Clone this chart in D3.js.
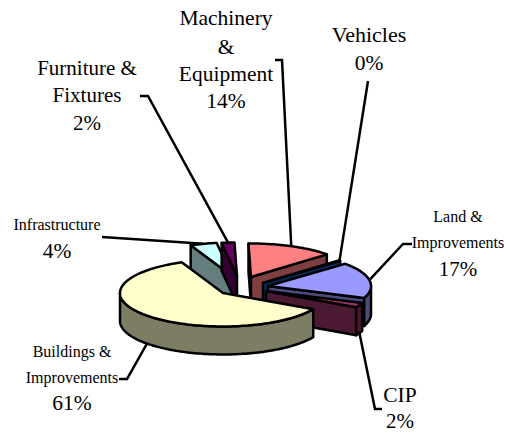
<!DOCTYPE html>
<html>
<head>
<meta charset="utf-8">
<script src="https://cdn.jsdelivr.net/npm/d3@7/dist/d3.min.js"></script>
<style>
  html, body { margin: 0; padding: 0; background: #fff; }
  text { font-family: "Liberation Serif", "Times New Roman", serif; fill: #000; }
</style>
</head>
<body>
<div id="chart"></div>
<script>
const categories = ["Land & Improvements", "CIP", "Buildings & Improvements", "Infrastructure", "Furniture & Fixtures", "Machinery & Equipment", "Vehicles"];
const values = [17.4, 2.2, 60.6, 4.2, 2, 13.6, 0.3];
const topColors = ["#9999ff", "#993366", "#ffffcc", "#ccffff", "#660066", "#ff8080", "#0066cc"];
const explodeX = [30, 28, -15, -6, -1, 13, 25];
const explodeY = [0, 5, 7, -10, -10, -9, -3];
const drawOrder = [3, 4, 5, 6, 0, 1, 2];

const width = 506, height = 433;
const cx = 238, cy = 286, rx = 103, squash = 0.325, depth = 28;

// label blocks: [text, font size, baseline]
const labelLines = [
  [["Land &", 16, 222], ["Improvements", 16, 248], ["17%", 21, 276]],
  [["CIP", 21.5, 402], ["2%", 21, 428]],
  [["Buildings &", 16, 357], ["Improvements", 16, 383], ["61%", 21.5, 410]],
  [["Infrastructure", 16, 230], ["4%", 21.5, 258]],
  [["Furniture &", 21, 75], ["Fixtures", 21, 102], ["2%", 21, 130]],
  [["Machinery", 21.5, 25], ["&", 21.5, 54], ["Equipment", 21.5, 81], ["14%", 21.5, 108]],
  [["Vehicles", 22, 42], ["0%", 21.5, 70]]
];
const labelX = [458, 400, 72, 57, 87, 226, 369];
const leaderEnds = [[[403, 244], [412, 244]], [[375, 409], [382, 409]], [[127, 379], [119, 379]], [[102, 237]], [[148, 96], [140, 96]], [[282, 60], [275, 60]], [[368, 81]]];

const svg = d3.select("#chart").append("svg")
  .attr("width", width)
  .attr("height", height);

const pie = d3.pie().sort(null).value(d => d).startAngle(48.5 * Math.PI / 180).endAngle((48.5 + 360) * Math.PI / 180);
const arcs = pie(values);

const rimPoint = (a, r, dy = 0) => [r * Math.sin(a), -r * squash * Math.cos(a) + dy];
const line = d3.line();

const sweep = (a0, a1, dy) => {
  const n = Math.max(2, Math.ceil(Math.abs(a1 - a0) * 40));
  return d3.range(n + 1).map(i => rimPoint(a0 + (a1 - a0) * i / n, rx, dy));
};

const slices = drawOrder.map(i => {
  const a = arcs[i];
  return {
    i, a0: a.startAngle, a1: a.endAngle,
    mid: (a.startAngle + a.endAngle) / 2,
    x: cx + explodeX[i],
    y: cy + explodeY[i],
    top: topColors[i],
    side: d3.rgb(topColors[i]).darker(2).formatHex()
  };
});

const leaderG = svg.append("g");
const pieG = svg.append("g");
const labelG = svg.append("g");

// leaders first so the slices sit on top of their start
slices.forEach(s => {
  const [px, py] = rimPoint(s.mid, rx, Math.cos(s.mid) < 0 ? depth : 0);
  const pts = [[s.x + px, s.y + py]].concat(leaderEnds[s.i]);
  leaderG.append("path")
    .attr("d", line(pts))
    .attr("fill", "none")
    .attr("stroke", "#000")
    .attr("stroke-width", 2.5);
});

slices.forEach(s => {
  const g = pieG.append("g").attr("transform", `translate(${s.x},${s.y})`);
  const wall = pts => g.append("path")
    .attr("d", line(pts) + "Z")
    .attr("fill", s.side)
    .attr("stroke", "#000")
    .attr("stroke-width", 2.5)
    .attr("stroke-linejoin", "round");

  // a cut face only shows when it looks toward the viewer
  if (Math.sin(s.a0) < 0) wall([[0, 0], rimPoint(s.a0, rx), rimPoint(s.a0, rx, depth), [0, depth]]);
  if (Math.sin(s.a1) > 0) wall([[0, 0], rimPoint(s.a1, rx), rimPoint(s.a1, rx, depth), [0, depth]]);

  // outer wall, front half only
  const from = Math.max(s.a0, Math.PI / 2), to = Math.min(s.a1, 3 * Math.PI / 2);
  if (to > from) wall(sweep(from, to, 0).concat(sweep(to, from, depth)));

  g.append("path")
    .attr("d", line([[0, 0]].concat(sweep(s.a0, s.a1, 0))) + "Z")
    .attr("fill", s.top)
    .attr("stroke", "#000")
    .attr("stroke-width", 2.5)
    .attr("stroke-linejoin", "round");
});

categories.forEach((c, i) => {
  labelLines[i].forEach(([t, size, y]) => {
    labelG.append("text")
      .attr("x", labelX[i])
      .attr("y", y)
      .attr("text-anchor", "middle")
      .attr("font-size", size)
      .text(t);
  });
});
</script>
</body>
</html>
